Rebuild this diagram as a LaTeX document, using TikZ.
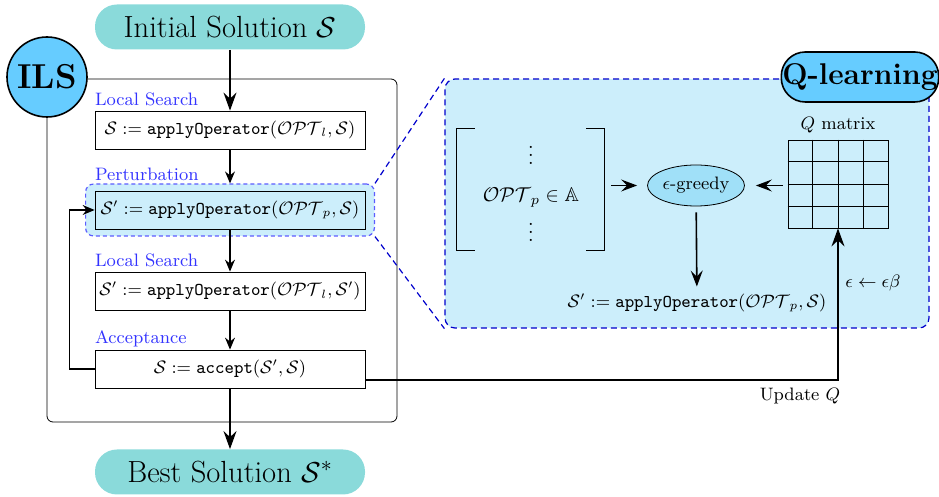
\documentclass[tikz,border=0pt]{standalone}
\usepackage{amssymb,amsmath}
\usepackage{tikz}
\usetikzlibrary{arrows.meta,positioning,shapes.geometric,fit,backgrounds,calc}

\definecolor{solfill}{RGB}{138,218,218}
\definecolor{ilsfill}{RGB}{102,204,255}
\definecolor{qfill}{RGB}{204,238,251}
\definecolor{greedyfill}{RGB}{160,224,248}
\definecolor{stagecol}{RGB}{51,51,255}
\definecolor{zoomcol}{RGB}{0,0,204}

\begin{document}
\begin{tikzpicture}[x=0.5pt,y=-0.5pt,
	solbox/.style={fill=solfill, rounded corners=11pt, minimum width=135pt, minimum height=22.5pt, font=\fontsize{15.3}{18}\selectfont},
	opbox/.style={draw, fill=white, minimum width=135pt, minimum height=19pt, inner sep=1pt, font=\small},
	stage/.style={text=stagecol, inner sep=0pt, anchor=base west, font=\small},
	bigarrow/.style={thick, -{Stealth[length=9pt, width=6.5pt, inset=3pt]}},
	smallarrow/.style={semithick, -{Stealth[length=6pt, width=5pt, inset=2pt]}},
	qarrow/.style={thick, -{Stealth[length=8pt, width=6pt, inset=3pt]}},
	zoomline/.style={semithick, zoomcol, dash pattern=on 3pt off 2pt},
	]
	\useasboundingbox (0,0) rectangle (939,497);
	
	% ILS loop
	\draw[rounded corners=3pt] (47,79) rectangle (397,422);
	\node[circle, draw, thick, fill=ilsfill, minimum size=40pt, inner sep=0pt, font=\LARGE\bfseries] (ils) at (47,77) {ILS};
	
	\node[solbox] (init) at (230,27) {Initial Solution $\mathcal{S}$};
	\node[opbox] (ls1) at (230,130) {$\mathcal{S} := \texttt{applyOperator}(\mathcal{OPT}_l, \mathcal{S})$};
	\node[opbox, fill=qfill] (pert) at (230,210) {$\mathcal{S}' := \texttt{applyOperator}(\mathcal{OPT}_p, \mathcal{S})$};
	\node[opbox] (ls2) at (230,291) {$\mathcal{S}' := \texttt{applyOperator}(\mathcal{OPT}_l, \mathcal{S}')$};
	\node[opbox] (acc) at (230,369) {$\mathcal{S} := \texttt{accept}(\mathcal{S}', \mathcal{S})$};
	\node[solbox] (best) at (230,472) {Best Solution $\mathcal{S}^*$};
	
	\begin{scope}[on background layer]
		\node[draw=stagecol!80, dash pattern=on 2pt off 1.5pt, semithick, fill=qfill, rounded corners=4pt, inner xsep=4.5pt, inner ysep=3.3pt, fit=(pert)] (pzone) {};
	\end{scope}
	
	\node[stage, yshift=2.5pt] (lbl1) at (ls1.north west) {Local Search};
	\node[stage, yshift=1.5pt] (lbl2) at (pert.north west |- pzone.north) {Perturbation};
	\node[stage, yshift=2.5pt] (lbl3) at (ls2.north west) {Local Search};
	\node[stage, yshift=3pt] (lbl4) at (acc.north west) {Acceptance};
	
	\draw[bigarrow] (init) -- (ls1);
	\draw[smallarrow] (ls1) -- (pzone);
	\draw[smallarrow] (pert) -- (ls2);
	\draw[smallarrow] (ls2) -- (acc);
	\draw[bigarrow] (acc) -- (best);
	\draw[smallarrow] (acc.west) -- ++(-25,0) |- (pert.west);
	
	% Q-learning part
	\node[draw=zoomcol, semithick, dash pattern=on 3pt off 2pt, fill=qfill, rounded corners=5pt, minimum width=242pt, minimum height=124.5pt] (qbox) at (687,203.5) {};
	\node[draw, thick, fill=ilsfill, rounded corners=12pt, minimum width=77.5pt, minimum height=25pt, inner xsep=0.5pt, font=\fontsize{15}{18}\selectfont\bfseries] (qtitle) at (860,77) {Q-learning};
	\draw[zoomline] (pzone.north east) -- (qbox.north west);
	\draw[zoomline] (pzone.south east) -- (qbox.south west);
	
	\node[minimum width=73.5pt, minimum height=60.5pt] (opset) at (530.5,189.5) {};
	\draw[semithick] ([xshift=9pt]opset.north west) -| (opset.south west) -- ++(18,0);
	\draw[semithick] ([xshift=-9pt]opset.north east) -| (opset.south east) -- ++(-18,0);
	\node[inner sep=0pt, align=center] (opsel) at (531,188) {$\vdots$\\[6.5pt] $\mathcal{OPT}_p \in \mathbb{A}$\\[1.5pt] $\vdots$};
	
	\node[ellipse, draw, fill=greedyfill, minimum width=48.5pt, minimum height=20.5pt, inner sep=0pt, font=\small] (greedy) at (696,185.5) {$\epsilon$-greedy};
	
	\node[draw, minimum width=50pt, minimum height=44pt, inner sep=0pt] (qmat) at (838,184) {};
	\foreach \i in {1,2,3} {
		\draw ($(qmat.north west)!\i/4!(qmat.north east)$) -- ($(qmat.south west)!\i/4!(qmat.south east)$);
		\draw ($(qmat.north west)!\i/4!(qmat.south west)$) -- ($(qmat.north east)!\i/4!(qmat.south east)$);
	}
	\node[above=0pt of qmat, font=\small] (qlabel) {$Q$ matrix};
	
	\node[font=\small] (newsol) at (697,303) {$\mathcal{S}' := \texttt{applyOperator}(\mathcal{OPT}_p, \mathcal{S})$};
	
	\draw[qarrow, shorten <=3.5pt, shorten >=5pt] (greedy.west -| opset.east) -- (greedy.west);
	\draw[qarrow, shorten <=2.5pt, shorten >=5.5pt] (greedy.east -| qmat.west) -- (greedy.east);
	\draw[qarrow, shorten <=3pt] (greedy) -- (newsol);
	
	% update of the Q matrix
	\draw[bigarrow] ([yshift=-5.5pt]acc.east) -| node[pos=0.5, anchor=north east, inner sep=0pt, xshift=1.5pt, yshift=-3.5pt, font=\small] {Update $Q$} node[pos=0.82, right, font=\small] {$\epsilon \leftarrow \epsilon\beta$} (qmat.south);
	
\end{tikzpicture}
\end{document}
